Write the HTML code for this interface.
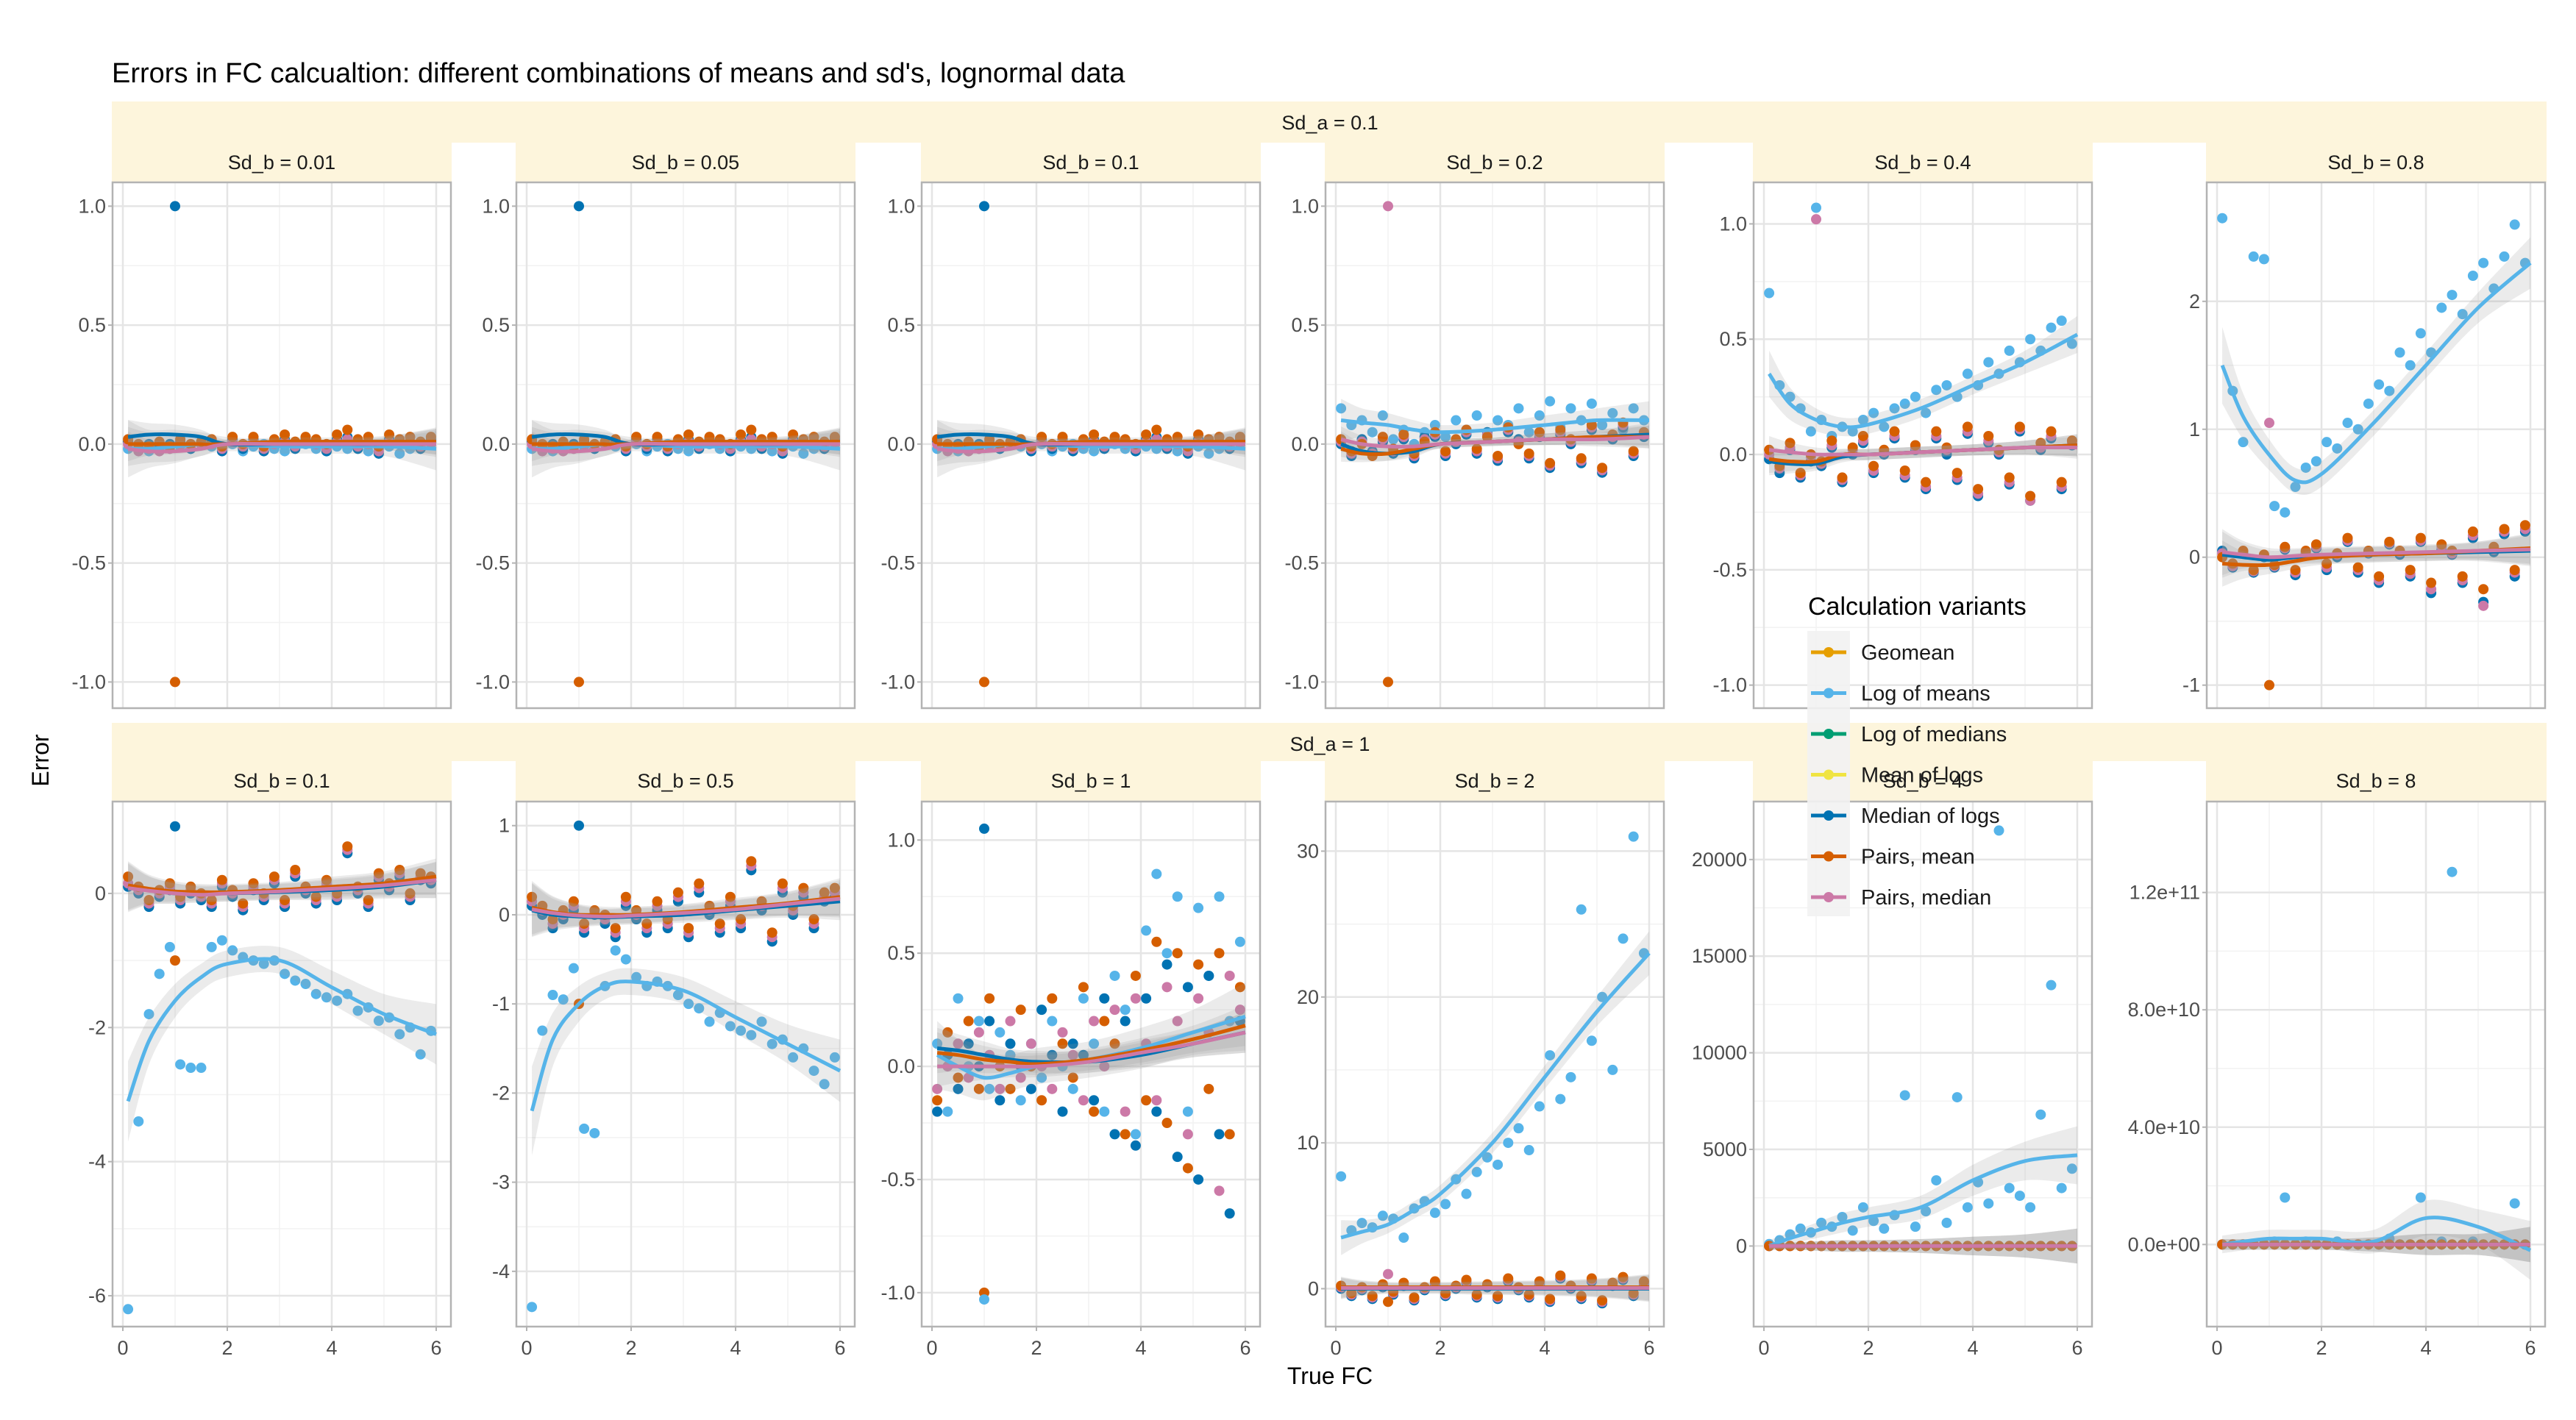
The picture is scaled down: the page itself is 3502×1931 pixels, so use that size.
<!DOCTYPE html>
<html><head><meta charset="utf-8"><style>
html,body{margin:0;padding:0;background:#fff;}
svg{display:block;font-family:"Liberation Sans",sans-serif;}
</style></head><body>
<svg id="chart" width="3502" height="1931" viewBox="0 0 3502 1931" xmlns="http://www.w3.org/2000/svg">
<rect width="3502" height="1931" fill="#fff"/>
<text x="152" y="112" font-size="38" fill="#000">Errors in FC calcualtion: different combinations of means and sd's, lognormal data</text>
<text x="1808" y="1882" font-size="32" text-anchor="middle" fill="#000">True FC</text>
<text x="66" y="1034" font-size="32" text-anchor="middle" fill="#000" transform="rotate(-90 66 1034)">Error</text>
<g id="plots"></g>
<g id="legend"></g>
</svg>
<script>
const xs = [0.1,0.3,0.5,0.7,0.9,1.1,1.3,1.5,1.7,1.9,2.1,2.3,2.5,2.7,2.9,3.1,3.3,3.5,3.7,3.9,4.1,4.3,4.5,4.7,4.9,5.1,5.3,5.5,5.7,5.9];
const smX = [0.1,0.5,1,1.5,2,3,4,5,6];
const seriesNames = ["Geomean","Log of means","Log of medians","Mean of logs","Median of logs","Pairs, mean","Pairs, median"];
const seriesColors = ["#E69F00","#56B4E9","#009E73","#F0E442","#0072B2","#D55E00","#CC79A7"];
const xTicks = [0,2,4,6];

// Row 1 small-noise panels (Sd_b = 0.01, 0.05, 0.1)
const p1_lm = [-0.02,-0.01,-0.03,-0.02,0.0,-0.01,-0.02,0.0,-0.01,-0.02,0.0,-0.03,-0.01,0.0,-0.02,-0.03,-0.01,0.0,-0.02,-0.03,-0.01,-0.02,0.0,-0.03,-0.02,-0.01,-0.04,-0.02,-0.01,0.0];
const p1_pm = [0.02,0.0,-0.01,0.01,-0.01,0.02,0.0,0.01,0.02,-0.01,0.03,0.0,0.03,-0.01,0.02,0.04,0.01,0.03,0.02,0.0,0.04,0.06,0.02,0.03,-0.01,0.04,0.02,0.03,0.01,0.03];
const p1_ml = [0.01,-0.02,0.0,-0.01,0.0,0.01,-0.02,0.0,0.01,-0.03,0.02,-0.02,0.02,-0.03,0.01,0.02,-0.02,0.02,0.0,-0.03,0.02,0.03,-0.02,0.01,-0.04,0.02,0.0,0.01,-0.02,0.02];
const p1_pd = [0.0,-0.03,-0.02,-0.03,-0.02,0.0,-0.01,0.0,0.0,-0.02,0.01,-0.01,0.01,-0.02,0.0,0.01,-0.01,0.01,0.0,-0.02,0.01,0.02,-0.01,0.0,-0.03,0.01,0.0,0.0,-0.01,0.01];
const p1_smLm = [-0.02,-0.02,-0.01,0,0,-0.01,-0.01,-0.01,-0.02];
const p1_smMl = [0.03,0.04,0.04,0.03,0.0,0.0,0.0,0.0,0.01];
const p1_smPm = [0.0,0.0,0.0,0.0,0.0,0.01,0.01,0.01,0.01];
const p1_smPd = [-0.02,-0.03,-0.03,-0.02,0.0,0.0,0.0,0.0,0.0];
const p1_rb = [0.12,0.08,0.07,0.05,0.03,0.03,0.03,0.04,0.09];
const p1_outY = [1.0,-1.0];
const p1_outS = [4,5];

// Sd_b = 0.2
const p4_lm = [0.15,0.08,0.1,0.05,0.12,0.02,0.06,0.0,0.05,0.08,0.03,0.1,0.06,0.12,0.04,0.1,0.08,0.15,0.05,0.12,0.18,0.07,0.15,0.1,0.17,0.08,0.13,0.06,0.15,0.1];
const p4_pm = [0.02,-0.03,0.0,-0.05,0.03,-0.02,0.04,-0.04,0.01,0.05,-0.03,0.02,0.06,-0.02,0.03,-0.05,0.07,0.0,-0.04,0.05,-0.08,0.06,0.02,-0.06,0.08,-0.1,0.04,0.09,-0.03,0.05];
const p4_ml = [0.0,-0.05,0.02,-0.03,0.01,-0.04,0.02,-0.06,0.03,0.03,-0.05,0.0,0.04,-0.04,0.05,-0.07,0.05,0.02,-0.06,0.03,-0.1,0.04,0.0,-0.08,0.06,-0.12,0.02,0.07,-0.05,0.03];
const p4_pd = [0.01,-0.04,0.01,-0.04,0.02,-0.03,0.03,-0.05,0.02,0.04,-0.04,0.01,0.05,-0.03,0.04,-0.06,0.06,0.01,-0.05,0.04,-0.09,0.05,0.01,-0.07,0.07,-0.11,0.03,0.08,-0.04,0.04];
const p4_smLm = [0.1,0.09,0.08,0.06,0.05,0.06,0.08,0.1,0.1];
const p4_smMl = [0.0,-0.03,-0.04,-0.03,0.0,0.01,0.02,0.03,0.04];
const p4_smPm = [-0.02,-0.04,-0.04,-0.02,0.0,0.01,0.02,0.03,0.03];
const p4_smPd = [0.02,0.0,-0.01,-0.01,0.0,0.01,0.02,0.02,0.03];
const p4_rb = [0.09,0.06,0.05,0.04,0.03,0.03,0.04,0.05,0.08];
const p4_outY = [1.0,-1.0];
const p4_outS = [6,5];

// Sd_b = 0.4
const p5_lm = [0.7,0.3,0.25,0.2,0.1,0.15,0.08,0.12,0.1,0.15,0.18,0.12,0.2,0.22,0.25,0.18,0.28,0.3,0.25,0.35,0.3,0.4,0.35,0.45,0.4,0.5,0.45,0.55,0.58,0.48];
const p5_pm = [0.02,-0.05,0.05,-0.08,0.0,-0.03,0.06,-0.1,0.03,0.08,-0.05,0.02,0.1,-0.07,0.04,-0.12,0.1,0.03,-0.08,0.12,-0.15,0.08,0.02,-0.1,0.12,-0.18,0.05,0.1,-0.12,0.06];
const p5_ml = [-0.02,-0.08,0.02,-0.1,-0.03,-0.05,0.03,-0.12,0.0,0.05,-0.08,0.0,0.07,-0.1,0.02,-0.15,0.07,0.0,-0.11,0.09,-0.18,0.05,0.0,-0.13,0.1,-0.2,0.02,0.07,-0.15,0.04];
const p5_pd = [0.0,-0.06,0.03,-0.09,-0.01,-0.04,0.04,-0.11,0.02,0.06,-0.07,0.01,0.08,-0.09,0.03,-0.14,0.08,0.02,-0.1,0.1,-0.17,0.06,0.01,-0.12,0.11,-0.2,0.03,0.08,-0.14,0.05];
const p5_smLm = [0.35,0.22,0.15,0.12,0.13,0.2,0.3,0.4,0.52];
const p5_smMl = [-0.03,-0.04,-0.04,-0.01,0.0,0.01,0.02,0.03,0.04];
const p5_smPm = [-0.02,-0.03,-0.03,0.0,0.0,0.01,0.02,0.03,0.04];
const p5_smPd = [0.02,0.01,0.0,0.0,0.0,0.01,0.02,0.03,0.03];
const p5_rb = [0.1,0.07,0.05,0.04,0.04,0.04,0.04,0.05,0.08];
const p5_outY = [1.07,1.02];
const p5_outS = [1,6];

// Sd_b = 0.8
const p6_lm = [2.65,1.3,0.9,2.35,2.33,0.4,0.35,0.55,0.7,0.75,0.9,0.85,1.05,1.0,1.2,1.35,1.3,1.6,1.5,1.75,1.6,1.95,2.05,1.9,2.2,2.3,2.1,2.35,2.6,2.3];
const p6_pm = [0.0,-0.05,0.05,-0.1,0.02,-0.06,0.08,-0.1,0.05,0.1,-0.05,0.03,0.15,-0.08,0.05,-0.15,0.12,0.05,-0.1,0.15,-0.2,0.1,0.05,-0.15,0.2,-0.25,0.08,0.22,-0.1,0.25];
const p6_ml = [0.05,-0.08,0.03,-0.12,0.0,-0.08,0.06,-0.14,0.03,0.07,-0.1,0.0,0.12,-0.12,0.03,-0.2,0.1,0.02,-0.15,0.12,-0.28,0.06,0.02,-0.2,0.15,-0.35,0.04,0.18,-0.15,0.2];
const p6_pd = [0.03,-0.07,0.04,-0.11,0.01,-0.07,0.07,-0.12,0.04,0.08,-0.08,0.02,0.13,-0.1,0.04,-0.18,0.11,0.04,-0.13,0.13,-0.25,0.08,0.03,-0.18,0.17,-0.38,0.06,0.2,-0.12,0.22];
const p6_smLm = [1.5,1.1,0.8,0.6,0.65,1.05,1.5,1.95,2.3];
const p6_smMl = [0.02,0.0,-0.02,0.0,0.01,0.02,0.03,0.04,0.05];
const p6_smPm = [-0.05,-0.06,-0.06,-0.03,0.0,0.02,0.03,0.05,0.07];
const p6_smPd = [0.04,0.02,0.0,0.01,0.02,0.03,0.04,0.05,0.06];
const p6_rb = [0.3,0.18,0.12,0.1,0.1,0.1,0.1,0.12,0.2];
const p6_outY = [1.05,-1.0];
const p6_outS = [6,5];

// Row 2: Sd_b = 0.1
const p7_lm = [-6.2,-3.4,-1.8,-1.2,-0.8,-2.55,-2.6,-2.6,-0.8,-0.7,-0.85,-0.95,-1.0,-1.05,-1.0,-1.2,-1.3,-1.35,-1.5,-1.55,-1.6,-1.5,-1.75,-1.7,-1.9,-1.85,-2.1,-2.0,-2.4,-2.05];
const p7_pm = [0.25,0.1,-0.1,0.05,0.15,-0.05,0.1,0.0,-0.1,0.2,0.05,-0.15,0.15,0.0,0.25,-0.1,0.35,0.1,-0.05,0.2,0.0,0.7,0.1,-0.1,0.3,0.15,0.35,0.0,0.3,0.25];
const p7_ml = [0.1,0.0,-0.2,-0.05,0.05,-0.15,0.0,-0.1,-0.2,0.1,-0.05,-0.25,0.05,-0.1,0.15,-0.2,0.25,0.0,-0.15,0.1,-0.1,0.6,0.0,-0.2,0.2,0.05,0.25,-0.1,0.2,0.15];
const p7_pd = [0.15,0.05,-0.15,0.0,0.1,-0.1,0.05,-0.05,-0.15,0.15,0.0,-0.2,0.1,-0.05,0.2,-0.15,0.3,0.05,-0.1,0.15,-0.05,0.65,0.05,-0.15,0.25,0.1,0.3,-0.05,0.25,0.2];
const p7_smLm = [-3.1,-2.2,-1.6,-1.25,-1.05,-1.0,-1.4,-1.8,-2.1];
const p7_smMl = [0.1,0.05,0.0,0.0,0.0,0.02,0.05,0.1,0.2];
const p7_smPm = [0.12,0.07,0.03,0.02,0.02,0.05,0.1,0.15,0.25];
const p7_smPd = [0.08,0.04,0.0,-0.02,0.0,0.03,0.07,0.12,0.2];
const p7_rb = [0.6,0.35,0.25,0.2,0.2,0.2,0.25,0.3,0.45];
const p7_outY = [1.0,-1.0];
const p7_outS = [4,5];

// Sd_b = 0.5
const p8_lm = [-4.4,-1.3,-0.9,-0.95,-0.6,-2.4,-2.45,-0.8,-0.4,-0.5,-0.7,-0.8,-0.75,-0.8,-0.9,-1.0,-1.05,-1.2,-1.1,-1.25,-1.3,-1.35,-1.2,-1.45,-1.4,-1.6,-1.5,-1.75,-1.9,-1.6];
const p8_pm = [0.2,0.1,-0.05,0.05,0.15,-0.1,0.05,0.0,-0.15,0.2,0.05,-0.1,0.15,-0.05,0.25,-0.15,0.35,0.1,-0.1,0.2,-0.05,0.6,0.15,-0.2,0.35,0.1,0.3,-0.05,0.25,0.3];
const p8_ml = [0.1,0.0,-0.15,-0.05,0.05,-0.2,0.0,-0.1,-0.25,0.1,-0.05,-0.2,0.05,-0.15,0.15,-0.25,0.25,0.0,-0.2,0.1,-0.15,0.5,0.05,-0.3,0.25,0.0,0.2,-0.15,0.15,0.2];
const p8_pd = [0.15,0.05,-0.1,0.0,0.1,-0.15,0.02,-0.05,-0.2,0.15,0.0,-0.15,0.1,-0.1,0.2,-0.2,0.3,0.05,-0.15,0.15,-0.1,0.55,0.1,-0.25,0.3,0.05,0.25,-0.1,0.2,0.25];
const p8_smLm = [-2.2,-1.4,-1.0,-0.8,-0.75,-0.85,-1.15,-1.45,-1.75];
const p8_smMl = [0.05,0.0,-0.02,-0.03,-0.02,0.0,0.05,0.1,0.15];
const p8_smPm = [0.08,0.03,0.0,0.0,0.0,0.03,0.08,0.13,0.2];
const p8_smPd = [0.06,0.02,-0.01,-0.02,-0.01,0.02,0.06,0.12,0.18];
const p8_rb = [0.5,0.3,0.2,0.15,0.15,0.15,0.18,0.22,0.35];
const p8_outY = [1.0,-1.0];
const p8_outS = [4,5];

// Sd_b = 1
const p9_lm = [0.1,-0.2,0.3,0.0,0.2,-0.1,0.15,0.05,-0.15,0.1,-0.05,0.2,0.0,-0.1,0.3,0.1,-0.2,0.4,0.25,-0.3,0.6,0.85,0.5,0.75,-0.2,0.7,0.4,0.75,0.2,0.55];
const p9_ml = [-0.2,0.05,-0.1,0.1,0.0,0.2,-0.15,0.1,0.0,-0.1,0.25,0.05,-0.2,0.1,0.05,-0.15,0.3,-0.3,0.2,-0.35,0.3,-0.2,0.45,-0.4,0.35,-0.5,0.4,-0.3,-0.65,0.2];
const p9_pm = [-0.15,0.15,-0.05,0.2,-0.1,0.3,0.0,-0.1,0.25,0.0,-0.15,0.3,0.1,-0.05,0.35,-0.2,0.2,0.1,-0.3,0.4,-0.15,0.55,-0.25,0.5,-0.45,0.45,-0.1,0.5,-0.3,0.35];
const p9_pd = [-0.1,0.0,0.1,-0.05,0.15,0.05,-0.1,0.2,-0.05,0.1,0.0,-0.1,0.15,0.05,-0.15,0.2,0.0,0.25,-0.2,0.3,0.1,-0.15,0.35,0.2,-0.3,0.3,0.15,-0.55,0.4,0.25];
const p9_smLm = [0.05,0.0,-0.05,-0.03,0.0,0.03,0.08,0.15,0.22];
const p9_smMl = [0.08,0.07,0.05,0.03,0.02,0.02,0.05,0.1,0.15];
const p9_smPm = [0.06,0.05,0.03,0.02,0.01,0.03,0.07,0.12,0.18];
const p9_smPd = [0.0,0.0,0.0,0.0,0.0,0.02,0.06,0.1,0.15];
const p9_rb = [0.15,0.12,0.1,0.08,0.08,0.08,0.09,0.1,0.15];
const p9_outY = [1.05,-1.0,-1.03];
const p9_outS = [4,5,1];

// Sd_b = 2
const p10_lm = [7.7,4.0,4.5,4.2,5.0,4.8,3.5,5.5,6.0,5.2,5.8,7.5,6.5,8.0,9.0,8.5,10.0,11.0,9.5,12.5,16.0,13.0,14.5,26.0,17.0,20.0,15.0,24.0,31.0,23.0];
const p10_pm = [0.2,-0.3,0.1,-0.5,0.3,-0.2,0.4,-0.6,0.1,0.5,-0.3,0.2,0.6,-0.4,0.3,-0.5,0.7,0.1,-0.4,0.5,-0.7,0.9,0.2,-0.5,0.7,-0.8,0.4,0.8,-0.3,0.5];
const p10_ml = [0.0,-0.5,-0.1,-0.7,0.1,-0.4,0.2,-0.8,-0.1,0.3,-0.5,0.0,0.4,-0.6,0.1,-0.7,0.5,-0.1,-0.6,0.3,-0.9,0.7,0.0,-0.7,0.5,-1.0,0.2,0.6,-0.5,0.3];
const p10_pd = [0.1,-0.4,0.0,-0.6,0.2,-0.3,0.3,-0.7,0.0,0.4,-0.4,0.1,0.5,-0.5,0.2,-0.6,0.6,0.0,-0.5,0.4,-0.8,0.8,0.1,-0.6,0.6,-0.9,0.3,0.7,-0.4,0.4];
const p10_smLm = [3.5,3.9,4.4,5.4,6.5,10.0,14.5,19.0,23.0];
const p10_smMl = [0.0,0.0,0.0,0.0,0.0,0.0,0.0,0.0,0.0];
const p10_smPm = [0.1,0.1,0.1,0.1,0.1,0.1,0.1,0.1,0.1];
const p10_smPd = [0.05,0.05,0.05,0.05,0.05,0.05,0.05,0.05,0.05];
const p10_rb = [1.2,0.8,0.6,0.6,0.6,0.7,0.8,1.0,1.5];
const p10_outY = [1.0,-0.9];
const p10_outS = [6,5];

// Sd_b = 4
const p11_lm = [100,300,600,900,700,1200,1000,1500,800,2000,1300,900,1600,7800,1000,1800,3400,1200,7700,2000,3300,2200,21500,3000,2600,2000,6800,13500,3000,4000];
const p11_pm = [0,0,0,0,0,0,0,0,0,0,0,0,0,0,0,0,0,0,0,0,0,0,0,0,0,0,0,0,0,0];
const p11_ml = [0,0,0,0,0,0,0,0,0,0,0,0,0,0,0,0,0,0,0,0,0,0,0,0,0,0,0,0,0,0];
const p11_pd = [0,0,0,0,0,0,0,0,0,0,0,0,0,0,0,0,0,0,0,0,0,0,0,0,0,0,0,0,0,0];
const p11_smLm = [0,400,800,1200,1500,2000,3400,4400,4700];
const p11_smMl = [0,0,0,0,0,0,0,0,0];
const p11_smPm = [0,0,0,0,0,0,0,0,0];
const p11_smPd = [0,0,0,0,0,0,0,0,0];
const p11_rb = [300,300,400,500,500,600,800,1000,1500];
const p11_outY = [];
const p11_outS = [];

// Sd_b = 8
const p12_lm = [0,0,0,0,0,0.1e10,1.6e10,0,0.1e10,0,0,0.1e10,0,0,0,0,0.2e10,0,0,1.6e10,0,0.1e10,12.7e10,0,0.1e10,0,0,0,1.4e10,0];
const p12_pm = [0,0,0,0,0,0,0,0,0,0,0,0,0,0,0,0,0,0,0,0,0,0,0,0,0,0,0,0,0,0];
const p12_ml = [0,0,0,0,0,0,0,0,0,0,0,0,0,0,0,0,0,0,0,0,0,0,0,0,0,0,0,0,0,0];
const p12_pd = [0,0,0,0,0,0,0,0,0,0,0,0,0,0,0,0,0,0,0,0,0,0,0,0,0,0,0,0,0,0];
const p12_smLm = [0,0.1e10,0.2e10,0.2e10,0.2e10,0.1e10,0.9e10,0.6e10,-0.2e10];
const p12_smMl = [0,0,0,0,0,0,0,0,0];
const p12_smPm = [0,0,0,0,0,0,0,0,0];
const p12_smPd = [0,0,0,0,0,0,0,0,0];
const p12_rb = [0.3e10,0.3e10,0.3e10,0.3e10,0.3e10,0.4e10,0.6e10,0.6e10,1.0e10];
const p12_outY = [];
const p12_outS = [];

// y ticks and labels per panel
const p1_yTicks = [-1,-0.5,0,0.5,1];   const p1_yLabels = ["-1.0","-0.5","0.0","0.5","1.0"];
const p5_yTicks = [-1,-0.5,0,0.5,1];   const p5_yLabels = ["-1.0","-0.5","0.0","0.5","1.0"];
const p6_yTicks = [-1,0,1,2];          const p6_yLabels = ["-1","0","1","2"];
const p7_yTicks = [-6,-4,-2,0];        const p7_yLabels = ["-6","-4","-2","0"];
const p8_yTicks = [-4,-3,-2,-1,0,1];   const p8_yLabels = ["-4","-3","-2","-1","0","1"];
const p9_yTicks = [-1,-0.5,0,0.5,1];   const p9_yLabels = ["-1.0","-0.5","0.0","0.5","1.0"];
const p10_yTicks = [0,10,20,30];       const p10_yLabels = ["0","10","20","30"];
const p11_yTicks = [0,5000,10000,15000,20000]; const p11_yLabels = ["0","5000","10000","15000","20000"];
const p12_yTicks = [0,4e10,8e10,1.2e11];      const p12_yLabels = ["0.0e+00","4.0e+10","8.0e+10","1.2e+11"];
const stripLabels = ["Sd_b = 0.01","Sd_b = 0.05","Sd_b = 0.1","Sd_b = 0.2","Sd_b = 0.4","Sd_b = 0.8","Sd_b = 0.1","Sd_b = 0.5","Sd_b = 1","Sd_b = 2","Sd_b = 4","Sd_b = 8"];

const NS = "http://www.w3.org/2000/svg";
function mk(tag, attrs, parent){ const e=document.createElementNS(NS,tag); for(const k in attrs) e.setAttribute(k,attrs[k]); if(parent) parent.appendChild(e); return e; }

const plots = document.getElementById('plots');
const lefts = [153,702,1253,1802,2384,3000];
const PW = 460;
const rows = [{top:248,bottom:963,stripTop:138,subTop:194,label:"Sd_a = 0.1"},{top:1090,bottom:1804,stripTop:983,subTop:1035,label:"Sd_a = 1"}];

// row-level strips
rows.forEach((r,i)=>{
  const s = mk('rect',{x:152,y:r.stripTop,width:3310,height:r.top-r.stripTop,fill:'#FDF5DC'},plots);
  
  
  // white gaps between panels in the sub-strip band
  for(let c=0;c<5;c++){
    mk('rect',{x:lefts[c]+PW+1,y:r.subTop,width:lefts[c+1]-lefts[c]-PW-2,height:r.top-r.subTop+2,fill:'#fff'},plots);
  }
  const t = mk('text',{x:1808,y:r.stripTop+38,'font-size':27,'text-anchor':'middle',fill:'#1a1a1a'},plots);
  t.textContent = r.label;
  
  
});

const panels = [
 {lm:p1_lm,ml:p1_ml,pm:p1_pm,pd:p1_pd,sLm:p1_smLm,sMl:p1_smMl,sPm:p1_smPm,sPd:p1_smPd,rb:p1_rb,oY:p1_outY,oS:p1_outS,yt:p1_yTicks,yl:p1_yLabels,dom:[-1.11,1.1]},
 {lm:p1_lm,ml:p1_ml,pm:p1_pm,pd:p1_pd,sLm:p1_smLm,sMl:p1_smMl,sPm:p1_smPm,sPd:p1_smPd,rb:p1_rb,oY:p1_outY,oS:p1_outS,yt:p1_yTicks,yl:p1_yLabels,dom:[-1.11,1.1]},
 {lm:p1_lm,ml:p1_ml,pm:p1_pm,pd:p1_pd,sLm:p1_smLm,sMl:p1_smMl,sPm:p1_smPm,sPd:p1_smPd,rb:p1_rb,oY:p1_outY,oS:p1_outS,yt:p1_yTicks,yl:p1_yLabels,dom:[-1.11,1.1]},
 {lm:p4_lm,ml:p4_ml,pm:p4_pm,pd:p4_pd,sLm:p4_smLm,sMl:p4_smMl,sPm:p4_smPm,sPd:p4_smPd,rb:p4_rb,oY:p4_outY,oS:p4_outS,yt:p1_yTicks,yl:p1_yLabels,dom:[-1.11,1.1]},
 {lm:p5_lm,ml:p5_ml,pm:p5_pm,pd:p5_pd,sLm:p5_smLm,sMl:p5_smMl,sPm:p5_smPm,sPd:p5_smPd,rb:p5_rb,oY:p5_outY,oS:p5_outS,yt:p5_yTicks,yl:p5_yLabels,dom:[-1.1,1.18]},
 {lm:p6_lm,ml:p6_ml,pm:p6_pm,pd:p6_pd,sLm:p6_smLm,sMl:p6_smMl,sPm:p6_smPm,sPd:p6_smPd,rb:p6_rb,oY:p6_outY,oS:p6_outS,yt:p6_yTicks,yl:p6_yLabels,dom:[-1.18,2.93]},
 {lm:p7_lm,ml:p7_ml,pm:p7_pm,pd:p7_pd,sLm:p7_smLm,sMl:p7_smMl,sPm:p7_smPm,sPd:p7_smPd,rb:p7_rb,oY:p7_outY,oS:p7_outS,yt:p7_yTicks,yl:p7_yLabels,dom:[-6.46,1.37]},
 {lm:p8_lm,ml:p8_ml,pm:p8_pm,pd:p8_pd,sLm:p8_smLm,sMl:p8_smMl,sPm:p8_smPm,sPd:p8_smPd,rb:p8_rb,oY:p8_outY,oS:p8_outS,yt:p8_yTicks,yl:p8_yLabels,dom:[-4.62,1.27]},
 {lm:p9_lm,ml:p9_ml,pm:p9_pm,pd:p9_pd,sLm:p9_smLm,sMl:p9_smMl,sPm:p9_smPm,sPd:p9_smPd,rb:p9_rb,oY:p9_outY,oS:p9_outS,yt:p9_yTicks,yl:p9_yLabels,dom:[-1.15,1.17]},
 {lm:p10_lm,ml:p10_ml,pm:p10_pm,pd:p10_pd,sLm:p10_smLm,sMl:p10_smMl,sPm:p10_smPm,sPd:p10_smPd,rb:p10_rb,oY:p10_outY,oS:p10_outS,yt:p10_yTicks,yl:p10_yLabels,dom:[-2.6,33.4]},
 {lm:p11_lm,ml:p11_ml,pm:p11_pm,pd:p11_pd,sLm:p11_smLm,sMl:p11_smMl,sPm:p11_smPm,sPd:p11_smPd,rb:p11_rb,oY:p11_outY,oS:p11_outS,yt:p11_yTicks,yl:p11_yLabels,dom:[-4170,23000]},
 {lm:p12_lm,ml:p12_ml,pm:p12_pm,pd:p12_pd,sLm:p12_smLm,sMl:p12_smMl,sPm:p12_smPm,sPd:p12_smPd,rb:p12_rb,oY:p12_outY,oS:p12_outS,yt:p12_yTicks,yl:p12_yLabels,dom:[-2.8e10,1.51e11]}
];

function splinePath(pts){
  let d = 'M'+pts[0][0]+','+pts[0][1];
  for(let i=0;i<pts.length-1;i++){
    const p0=pts[i-1]||pts[i], p1=pts[i], p2=pts[i+1], p3=pts[i+2]||p2;
    const c1x=p1[0]+(p2[0]-p0[0])/6, c1y=p1[1]+(p2[1]-p0[1])/6;
    const c2x=p2[0]-(p3[0]-p1[0])/6, c2y=p2[1]-(p3[1]-p1[1])/6;
    d+=' C'+c1x+','+c1y+' '+c2x+','+c2y+' '+p2[0]+','+p2[1];
  }
  return d;
}

panels.forEach((P,i)=>{
  const row = rows[i<6?0:1], L = lefts[i%6], R = L+PW, T=row.top, B=row.bottom;
  const xS = v => L + 14 + (v - 0) * (426/6);
  const yS = v => B - (v - P.dom[0]) / (P.dom[1]-P.dom[0]) * (B-T);
  const g = mk('g',{},plots);
  
  
  // sub strip
  const st = mk('rect',{x:L,y:row.subTop,width:PW,height:T-row.subTop,fill:'#FDF5DC'},g);
  
  
  const stt = mk('text',{x:L+PW/2,y:row.subTop+36,'font-size':27,'text-anchor':'middle',fill:'#1a1a1a'},g);
  stt.textContent = stripLabels[i];
  
  
  mk('rect',{x:L,y:T,width:PW,height:B-T,fill:'#fff'},g);
  const clipId='clip'+i;
  const cp = mk('clipPath',{id:clipId},g); mk('rect',{x:L,y:T,width:PW,height:B-T},cp);
  // grid
  [1,3,5].forEach(v=>mk('line',{x1:xS(v),x2:xS(v),y1:T,y2:B,stroke:'#f2f2f2','stroke-width':1.5},g));
  for(let k=0;k<P.yt.length-1;k++){ const m=(P.yt[k]+P.yt[k+1])/2; mk('line',{x1:L,x2:R,y1:yS(m),y2:yS(m),stroke:'#f2f2f2','stroke-width':1.5},g); }
  xTicks.forEach(v=>mk('line',{x1:xS(v),x2:xS(v),y1:T,y2:B,stroke:'#e5e5e5','stroke-width':2.5},g));
  P.yt.forEach((v,k)=>{
    mk('line',{x1:L,x2:R,y1:yS(v),y2:yS(v),stroke:'#e5e5e5','stroke-width':2.5},g);
    mk('line',{x1:L-6,x2:L,y1:yS(v),y2:yS(v),stroke:'#b3b3b3','stroke-width':2},g);
    const t=mk('text',{x:L-9,y:yS(v)+9,'font-size':27,'text-anchor':'end',fill:'#4d4d4d'},g);
    t.textContent=P.yl[k];
    
    
  });
  if(i>=6){
    xTicks.forEach(v=>{
      mk('line',{x1:xS(v),x2:xS(v),y1:B,y2:B+6,stroke:'#b3b3b3','stroke-width':2},g);
      const t=mk('text',{x:xS(v),y:B+38,'font-size':27,'text-anchor':'middle',fill:'#4d4d4d'},g);
      t.textContent=String(v);
      
      
    });
  }
  const dg = mk('g',{'clip-path':'url(#'+clipId+')'},g);
  const series = [[P.lm,1],[P.ml,4],[P.pd,6],[P.pm,5]];
  series.forEach(([arr,ci])=>{
    arr.forEach((v,k)=>{
      const c=mk('circle',{cx:xS(xs[k]),cy:yS(v),r:7,fill:seriesColors[ci]},dg);
      
      
    });
  });
  P.oY.forEach((v,k)=>{
    const c=mk('circle',{cx:xS(1),cy:yS(v),r:7,fill:seriesColors[P.oS[k]]},dg);
    
    
  });
  // ribbons + smooth lines
  const smooths = [[P.sLm,1],[P.sMl,4],[P.sPm,5],[P.sPd,6]];
  smooths.forEach(([arr,ci],si)=>{
    const w = si===0 ? P.rb : P.rb.map(r=>r*0.6);
    const up = smX.map((x,k)=>[xS(x),yS(arr[k]+w[k])]);
    const dn = smX.map((x,k)=>[xS(x),yS(arr[k]-w[k])]).reverse();
    const d = splinePath(up)+' L'+dn[0][0]+','+dn[0][1]+splinePath(dn).slice(splinePath(dn).indexOf(' C'))+' Z';
    const rp=mk('path',{d:d,fill:'#999',opacity:0.2},dg);
    
    
  });
  smooths.forEach(([arr,ci])=>{
    const pts = smX.map((x,k)=>[xS(x),yS(arr[k])]);
    const p=mk('path',{d:splinePath(pts),fill:'none',stroke:seriesColors[ci],'stroke-width':5},dg);
    
    
  });
  mk('rect',{x:L,y:T,width:PW,height:B-T,fill:'none',stroke:'#b3b3b3','stroke-width':2.5},g);
});

// legend
const lg = document.getElementById('legend');


const lt = mk('text',{x:2458,y:836,'font-size':34,fill:'#000'},lg);
lt.textContent = 'Calculation variants';


mk('rect',{x:2457,y:858,width:58,height:388,fill:'#f2f2f2',opacity:0.9},lg);
seriesNames.forEach((n,k)=>{
  const y = 887 + k*55.5;
  const e = mk('g',{},lg);
  
  
  mk('line',{x1:2462,x2:2510,y1:y,y2:y,stroke:seriesColors[k],'stroke-width':5},e);
  mk('circle',{cx:2486,cy:y,r:7,fill:seriesColors[k]},e);
  const t=mk('text',{x:2530,y:y+10,'font-size':29,fill:'#1a1a1a'},e);
  t.textContent=n;
});
</script>
</body></html>
